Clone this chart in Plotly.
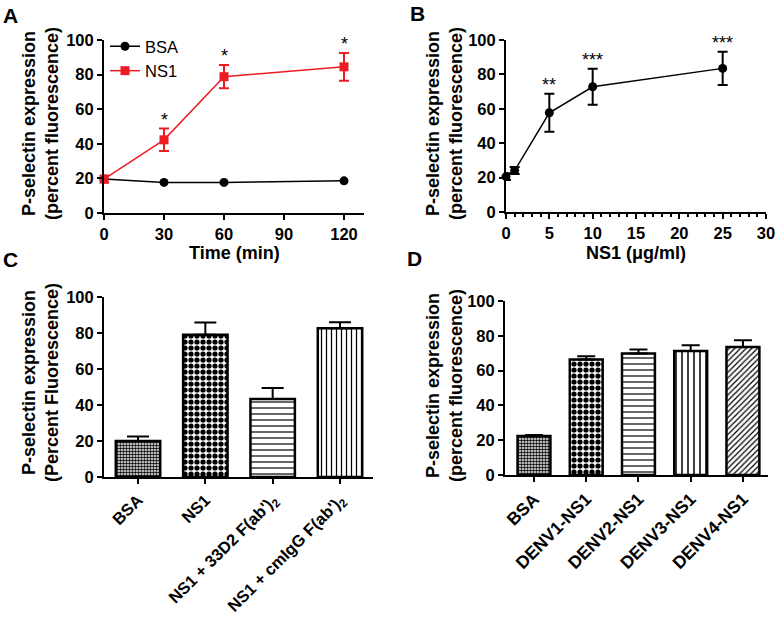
import plotly.graph_objects as go

# ---------------- data ----------------
time_min = [0, 30, 60, 120]
bsa_time = [19.7, 17.7, 17.7, 18.6]
bsa_time_err = [0.8, 0.5, 0.5, 0.6]
ns1_time = [19.6, 42.3, 78.8, 84.5]
ns1_time_err = [2.0, 6.5, 6.7, 8.0]
stars_time = ["", "*", "*", "*"]

dose_ugml = [0, 1, 5, 10, 25]
ns1_dose = [20.6, 24.1, 57.7, 72.8, 83.5]
ns1_dose_err = [2.0, 2.0, 11.0, 10.5, 9.7]
stars_dose = ["", "", "**", "***", "***"]

cats_c = ["BSA", "NS1", "NS1 + 33D2 F(ab')<sub>2</sub>", "NS1 + cmIgG F(ab')<sub>2</sub>"]
vals_c = [20.0, 79.0, 43.4, 82.6]
err_c = [2.5, 6.8, 6.0, 3.4]

cats_d = ["BSA", "DENV1-NS1", "DENV2-NS1", "DENV3-NS1", "DENV4-NS1"]
vals_d = [22.4, 66.4, 69.8, 71.3, 73.6]
err_d = [0.6, 1.9, 2.3, 3.3, 3.9]

# patterns (style)
pat_c = [(".", 3, 0.55), (".", 6, 0.6), ("-", 6, 0.2), ("|", 5, 0.25)]
pat_d = [(".", 3, 0.55), (".", 6, 0.6), ("-", 6, 0.2), ("|", 6, 0.25), ("/", 4, 0.3)]

W, H = 777, 617
FONT = "Liberation Sans, Arial, sans-serif"
RED = "#ed1c24"


def px(x):
    return x / W


def py(y):
    return 1 - y / H


fig = go.Figure()

# ---- Panel A ----
fig.add_trace(go.Scatter(
    x=time_min, y=bsa_time, name="BSA", mode="lines+markers",
    line=dict(color="black", width=1.5), marker=dict(symbol="circle", size=9, color="black"),
    error_y=dict(type="data", array=bsa_time_err, color="black", thickness=1.5, width=4),
    cliponaxis=False, xaxis="x", yaxis="y"))
fig.add_trace(go.Scatter(
    x=time_min, y=ns1_time, name="NS1", mode="lines+markers",
    line=dict(color=RED, width=1.5), marker=dict(symbol="square", size=9, color=RED),
    error_y=dict(type="data", array=ns1_time_err, color=RED, thickness=2, width=5),
    cliponaxis=False, xaxis="x", yaxis="y"))

# ---- Panel B ----
fig.add_trace(go.Scatter(
    x=dose_ugml, y=ns1_dose, name="NS1 dose", mode="lines+markers", showlegend=False,
    line=dict(color="black", width=1.5), marker=dict(symbol="circle", size=9, color="black"),
    error_y=dict(type="data", array=ns1_dose_err, color="black", thickness=2, width=5),
    cliponaxis=False, xaxis="x2", yaxis="y2"))

# ---- Panel C ----
fig.add_trace(go.Bar(
    x=cats_c, y=vals_c, width=0.66, showlegend=False,
    marker=dict(color="white", line=dict(color="black", width=2.5),
                pattern=dict(shape=[p[0] for p in pat_c], size=[p[1] for p in pat_c],
                             solidity=[p[2] for p in pat_c], fgcolor="black", bgcolor="white",
                             fillmode="replace")),
    error_y=dict(type="data", symmetric=False, array=err_c, arrayminus=[0] * len(err_c),
                 color="black", thickness=2, width=11),
    xaxis="x3", yaxis="y3"))

# ---- Panel D ----
fig.add_trace(go.Bar(
    x=cats_d, y=vals_d, width=0.63, showlegend=False,
    marker=dict(color="white", line=dict(color="black", width=2.5),
                pattern=dict(shape=[p[0] for p in pat_d], size=[p[1] for p in pat_d],
                             solidity=[p[2] for p in pat_d], fgcolor="black", bgcolor="white",
                             fillmode="replace")),
    error_y=dict(type="data", symmetric=False, array=err_d, arrayminus=[0] * len(err_d),
                 color="black", thickness=2, width=9),
    xaxis="x4", yaxis="y4"))

tickfont = dict(family=FONT, size=16.5, color="black", weight="bold")
catfont_c = dict(family=FONT, size=16.5, color="black", weight="bold")
catfont_d = dict(family=FONT, size=17.5, color="black", weight="bold")
common = dict(showline=True, linewidth=2, linecolor="black", ticks="outside", ticklen=5,
              tickwidth=2, tickcolor="black", showgrid=False, zeroline=False,
              fixedrange=True, automargin=False)

fig.update_layout(
    template="none",
    width=W, height=H, margin=dict(l=0, r=0, t=0, b=0, autoexpand=False),
    paper_bgcolor="white", plot_bgcolor="white",
    font=dict(family=FONT, color="black"),
    xaxis=dict(domain=[px(104), px(364)], range=[0, 130], tickvals=[0, 30, 60, 90, 120],
               anchor="y", tickfont=tickfont, **common),
    yaxis=dict(domain=[py(213), py(40)], range=[0, 100], dtick=20, anchor="x",
               tickfont=tickfont, **common),
    xaxis2=dict(domain=[px(506), px(766)], range=[0, 30], dtick=5, anchor="y2",
                minor=dict(dtick=1, ticks="outside", ticklen=3, tickwidth=1.5, tickcolor="black"),
                tickfont=tickfont, **common),
    yaxis2=dict(domain=[py(212), py(40)], range=[0, 100], dtick=20, anchor="x2",
                tickfont=tickfont, **common),
    xaxis3=dict(domain=[px(104), px(373)], range=[-0.505, 3.49], anchor="y3", tickangle=-45,
                tickfont=catfont_c, **common),
    yaxis3=dict(domain=[py(477), py(297)], range=[0, 100], dtick=20, anchor="x3",
                tickfont=tickfont, **common),
    xaxis4=dict(domain=[px(505), px(768)], range=[-0.555, 4.48], anchor="y4", tickangle=-45,
                tickfont=catfont_d, **common),
    yaxis4=dict(domain=[py(475), py(301)], range=[0, 100], dtick=20, anchor="x4",
                tickfont=tickfont, **common),
    legend=dict(x=px(105), y=py(29), xanchor="left", yanchor="top",
                font=dict(family=FONT, size=16.5, color="black"),
                bgcolor="rgba(0,0,0,0)", tracegroupgap=0, itemwidth=30),
    showlegend=True,
)

ann = []
# significance stars
for xv, yv, ev, s in zip(time_min, ns1_time, ns1_time_err, stars_time):
    if s:
        ann.append(dict(x=xv, y=yv + ev, xref="x", yref="y", text=s, showarrow=False,
                        yanchor="bottom", yshift=-3,
                        font=dict(family=FONT, size=18, color="black")))
for xv, yv, ev, s in zip(dose_ugml, ns1_dose, ns1_dose_err, stars_dose):
    if s:
        ann.append(dict(x=xv, y=yv + ev, xref="x2", yref="y2", text=s, showarrow=False,
                        yanchor="bottom", yshift=-3,
                        font=dict(family=FONT, size=18, color="black")))

# axis titles
ytitle_font = dict(family=FONT, size=18, color="black", weight="bold")
ytitles = [
    ("P-selectin expression<br>(percent fluorescence)", 40, 124),
    ("P-selectin expression<br>(percent fluorescence)", 444, 124),
    ("P-selectin expression<br>(Percent Fluorescence)", 40, 383),
    ("P-selectin expression<br>(percent fluorescence)", 444, 386),
]
for t, xx, yy in ytitles:
    ann.append(dict(x=px(xx), y=py(yy), xref="paper", yref="paper", text=t, textangle=-90,
                    showarrow=False, xanchor="center", yanchor="middle", font=ytitle_font))
for t, xx, yy in [("Time (min)", 234, 253), ("NS1 (\u03bcg/ml)", 636, 253)]:
    ann.append(dict(x=px(xx), y=py(yy), xref="paper", yref="paper", text=t,
                    showarrow=False, xanchor="center", yanchor="middle", font=ytitle_font))

# panel letters
for t, xx, yy in [("A", 10, 16), ("B", 418, 13), ("C", 10, 259), ("D", 414, 258)]:
    ann.append(dict(x=px(xx), y=py(yy), xref="paper", yref="paper", text=t,
                    showarrow=False, xanchor="center", yanchor="middle",
                    font=dict(family=FONT, size=21, color="black", weight="bold")))

fig.update_layout(annotations=ann)
fig.write_html("out.html", config={"displayModeBar": False},
               post_script="document.body.style.margin='0';")
